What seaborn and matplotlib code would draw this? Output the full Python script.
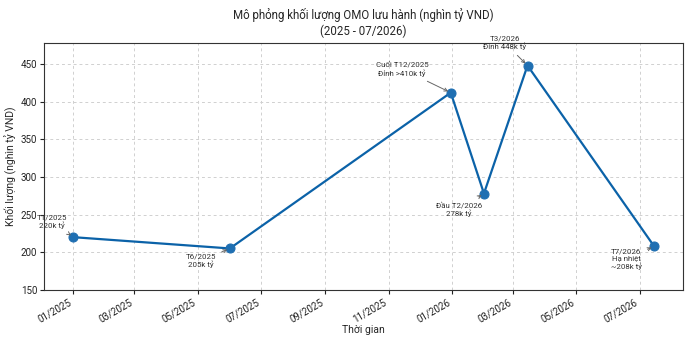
import matplotlib
matplotlib.use("Agg")
import matplotlib.pyplot as plt
import matplotlib.dates as mdates
import seaborn as sns
import pandas as pd

dates = ["2025-01-01", "2025-06-01", "2025-12-31", "2026-02-01", "2026-03-15", "2026-07-15"]
values = [220, 205, 412, 278, 448, 208]
labels = ["T1/2025\n220k tỷ", "T6/2025\n205k tỷ", "Cuối T12/2025\nĐỉnh >410k tỷ",
          "Đầu T2/2026\n278k tỷ", "T3/2026\nĐỉnh 448k tỷ", "T7/2026\nHạ nhiệt\n~208k tỷ"]
offsets = [(-15, 11), (-21, -9), (-35, 17), (-18, -11.5), (-16.5, 16.5), (-20, -9.5)]

df = pd.DataFrame({"date": pd.to_datetime(dates), "value": values})

sns.set_style("ticks")
plt.rcParams["font.family"] = ["Roboto", "DejaVu Sans"]

fig = plt.figure(figsize=(6.9, 3.41), dpi=100)
ax = fig.add_axes([0.064, 0.150, 0.926, 0.724])

sns.lineplot(data=df, x="date", y="value", ax=ax, color="#0b62a8", linewidth=1.6,
             marker="o", markersize=6.5, markerfacecolor="#1f6fb2", markeredgecolor="#1f6fb2")

for d, v, lab, off in zip(df["date"], values, labels, offsets):
    ax.annotate(lab, xy=(d, v), xytext=off, textcoords="offset points",
                ha="center", va="center", fontsize=5.7, color="#333333",
                arrowprops=dict(arrowstyle="->", color="#666666", lw=0.7))

ax.set_ylim(150, 478)
ax.xaxis.set_major_locator(mdates.MonthLocator(interval=2))
ax.xaxis.set_major_formatter(mdates.DateFormatter("%m/%Y"))
for lbl in ax.get_xticklabels():
    lbl.set_rotation(30)
    lbl.set_ha("right")
ax.tick_params(labelsize=7, length=3, colors="#222222", pad=2)
ax.grid(True, linestyle=(0, (3, 3)), color="#d0d0d0", linewidth=0.7)
for s in ax.spines.values():
    s.set_visible(True)
    s.set_color("#333333")
    s.set_linewidth(0.8)

ax.set_title("Mô phỏng khối lượng OMO lưu hành (nghìn tỷ VND)\n(2025 - 07/2026)", fontsize=8.3, pad=6)
ax.set_xlabel("Thời gian", fontsize=7.5, labelpad=1)
ax.set_ylabel("Khối lượng (nghìn tỷ VND)", fontsize=7.5, labelpad=3)

fig.savefig("out.png", dpi=100)
